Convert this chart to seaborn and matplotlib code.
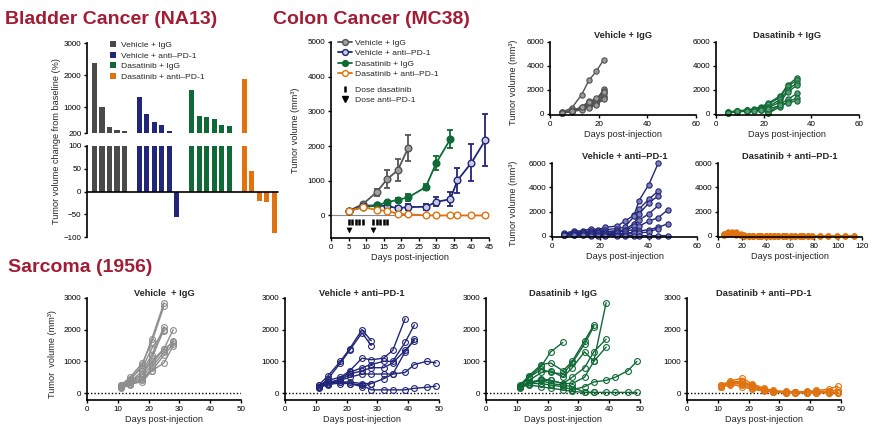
import numpy as np
import pandas as pd
import matplotlib
matplotlib.use("Agg")
import matplotlib.pyplot as plt
import seaborn as sns
from matplotlib.lines import Line2D
from matplotlib.patches import Patch

sns.set_style("ticks")
plt.rcParams["font.family"] = ["Liberation Sans", "DejaVu Sans"]

# ---------------- data ----------------
groups = ["Vehicle + IgG", "Vehicle + anti\u2013PD-1", "Dasatinib + IgG", "Dasatinib + anti\u2013PD-1"]

# Bladder waterfall (% change from baseline)
bladder_vehicle_igg = [2380, 1010, 390, 290, 260]
bladder_vehicle_pd1 = [1320, 790, 540, 440, 250, -55]
bladder_dasatinib_igg = [1540, 730, 700, 640, 440, 420]
bladder_dasatinib_pd1 = [1880, 45, -20, -22, -92]

# Colon mean +/- SEM
colon_days_vi = [5, 9, 13, 16, 19, 22]
colon_mean_vi = [130, 320, 670, 1050, 1300, 1950]
colon_sem_vi = [20, 40, 100, 250, 320, 380]
colon_days_vp = [5, 9, 13, 16, 19, 22, 27, 30, 34, 36, 40, 44]
colon_mean_vp = [130, 280, 290, 270, 210, 240, 250, 390, 470, 1010, 1520, 2180]
colon_sem_vp = [20, 30, 40, 50, 60, 80, 90, 130, 200, 370, 540, 750]
colon_days_di = [5, 9, 13, 16, 19, 22, 27, 30, 34]
colon_mean_di = [130, 230, 290, 380, 450, 520, 820, 1520, 2200]
colon_sem_di = [20, 30, 40, 50, 60, 100, 90, 200, 250]
colon_days_dp = [5, 9, 13, 16, 19, 22, 27, 30, 34, 36, 40, 44]
colon_mean_dp = [130, 240, 160, 130, 50, 30, 5, 0, 0, 0, 0, 0]
colon_sem_dp = [20, 30, 30, 30, 20, 10, 5, 0, 0, 0, 0, 0]
dose_dasatinib_days = [5, 6, 7, 8, 9, 12, 13, 14, 15, 16]
dose_pd1_days = [5, 12]

# Colon individual mice
cvi_days = [5, 9, 13, 16, 19, 22]
cvi_mice = [
    [150, 500, 1600, 2800, 3550, 4500],
    [100, 300, 500, 800, 1100, 2050],
    [120, 250, 550, 900, 1200, 1900],
    [80, 200, 400, 700, 1000, 1700],
    [100, 250, 500, 1100, 900, 1500],
    [90, 200, 450, 600, 800, 1300],
    [80, 150, 350, 500, 750, 1200],
    [100, 200, 600, 1000, 1300, 1800],
]
cdi_days = [5, 9, 13, 16, 19, 22, 27, 30, 34]
cdi_mice = [
    [150, 250, 300, 400, 600, 900, 1500, 2400, 3000],
    [120, 200, 250, 350, 500, 800, 1400, 2300, 2800],
    [100, 250, 300, 350, 450, 600, 1200, 2000, 2600],
    [100, 200, 200, 300, 400, 500, 1000, 1800, 2400],
    [130, 220, 280, 350, 400, 100, 800, 1200, 1700],
    [100, 150, 250, 300, 300, 50, 600, 1000, 1300],
    [80, 200, 200, 250, 350, 400, 700, 900, 1100],
]
cvp_days = [5, 9, 13, 16, 19, 22, 27, 30, 34, 36, 40, 44, 48]
cvp_mice = [
    [200, 400, 400, 600, 500, 700, 800, 1200, 1700, 2900, 4200, 6000],
    [150, 300, 350, 400, 400, 500, 600, 700, 1600, 2200, 3000, 3700],
    [100, 250, 300, 300, 300, 350, 400, 500, 1000, 1800, 2700, 3300],
    [100, 200, 250, 250, 200, 300, 400, 400, 800, 1300, 1800, 2500],
    [100, 150, 200, 200, 200, 200, 300, 400, 500, 800, 1200, 1500, 2150],
    [80, 100, 150, 150, 100, 150, 200, 200, 300, 400, 500, 700, 1000],
    [50, 80, 100, 100, 80, 100, 100, 100, 200, 250, 300, 600],
    [50, 50, 30, 20, 10, 10, 10, 10, 10, 10, 10, 10, 10],
]
cdp_days = [5, 8, 12, 15, 19, 22, 26, 29, 33, 36, 40, 43, 47, 50, 54, 57, 61, 64,
            68, 71, 75, 78, 85, 92, 99, 106, 113]
cdp_mice = [
    [150, 300, 250, 300, 120, 30, 0, 0, 0, 0, 0, 0, 0, 0, 0, 0, 0, 0, 0, 0, 0, 0, 0, 0, 0, 0, 0],
    [100, 250, 200, 250, 80, 10, 0, 0, 0, 0, 0, 0, 0, 0, 0, 0, 0, 0, 0, 0, 0, 0, 0, 0, 0, 0, 0],
    [80, 150, 300, 200, 50, 0, 0, 0, 0, 0, 0, 0, 0, 0, 0, 0, 0, 0, 0, 0, 0],
    [120, 200, 150, 100, 30, 0, 0, 0, 0, 0, 0, 0, 0, 0, 0],
]

# Sarcoma individual mice
s_days = [11, 14, 18, 21, 25, 28, 32, 35, 39, 42, 46, 49]
svi_mice = [
    [200, 400, 900, 1700, 2850],
    [250, 500, 950, 1600, 2750],
    [220, 350, 700, 1200, 2100],
    [180, 300, 600, 1100, 2000],
    [230, 450, 800, 1400, 1950],
    [200, 300, 500, 900, 1400, 2000],
    [150, 250, 400, 800, 1300, 1650],
    [200, 350, 600, 1000, 1400, 1600],
    [250, 300, 350, 700, 1200, 1550],
    [200, 280, 450, 700, 950, 1500],
]
svp_mice = [
    [250, 550, 1000, 1400, 2000, 1650],
    [200, 450, 950, 1350, 1900, 1500],
    [200, 400, 500, 700, 1100, 1050, 1100, 1350, 2350],
    [180, 300, 450, 650, 800, 900, 1000, 1000, 1600, 2150],
    [200, 350, 400, 600, 700, 800, 800, 950, 1350, 1650],
    [150, 300, 400, 500, 600, 600, 600, 600, 650, 900, 1000, 950],
    [200, 250, 350, 300, 250, 100, 100, 100, 100, 150, 180, 220],
    [250, 300, 350, 350, 300, 300, 450, 600, 1300, 1700],
    [200, 300, 300, 300, 200, 300],
]
sdi_mice = [
    [200, 500, 850, 1300, 1600],
    [250, 550, 900, 950, 700, 1000, 1650, 2150],
    [200, 500, 750, 650, 600, 950, 1550, 2100],
    [150, 400, 650, 700, 500, 800, 1300, 1000, 2850],
    [200, 300, 450, 400, 300, 500, 800, 1300, 1700],
    [200, 350, 400, 400, 300, 300, 500, 1000, 1450],
    [220, 300, 300, 250, 200, 100, 200, 350, 400, 500, 700, 1000],
    [180, 250, 200, 150, 100, 50, 20, 20, 20, 20, 20, 20],
    [200, 300, 400, 300, 250, 200, 20, 20],
]
sdp_mice = [
    [250, 380, 470, 300, 150, 80, 50, 40, 50, 80, 120, 220],
    [200, 350, 380, 250, 120, 60, 30, 30, 30, 50, 60, 100],
    [230, 300, 300, 200, 100, 50, 20, 20, 20, 30, 30, 30],
    [200, 250, 250, 150, 80, 30, 10, 10, 10, 10, 10, 10],
    [250, 320, 350, 220, 100, 40, 20, 20, 20, 20, 20, 20],
    [180, 280, 200, 120, 60, 20, 10, 10, 10, 10, 10, 10],
]

# ---------------- style ----------------
C_GRAY = "#4a4a4a"
C_NAVY = "#22267a"
C_GREEN = "#0f6a36"
C_ORANGE = "#e0730f"
C_LGRAY = "#8e8e8e"
C_TITLE = "#a31c33"
palette = dict(zip(groups, [C_GRAY, C_NAVY, C_GREEN, C_ORANGE]))

W, H = 874, 438
fig = plt.figure(figsize=(W / 100, H / 100), dpi=100)
fig.patch.set_facecolor("white")


def add_ax(l, t, r, b):
    return fig.add_axes([l / W, 1 - b / H, (r - l) / W, (b - t) / H])


TICK_FS = 5.8
LAB_FS = 6.6
PT_FS = 6.7
LEG_FS = 6.1


def style(ax, xlim=None, xticks=None, ylim=None, yticks=None):
    if xlim is not None:
        ax.set_xlim(*xlim)
    if xticks is not None:
        ax.set_xticks(xticks)
    if ylim is not None:
        ax.set_ylim(*ylim)
    if yticks is not None:
        ax.set_yticks(yticks)
    for s in ["top", "right"]:
        ax.spines[s].set_visible(False)
    for s in ["left", "bottom"]:
        ax.spines[s].set_linewidth(1.2)
        ax.spines[s].set_color("black")
    ax.tick_params(labelsize=TICK_FS, length=2.5, width=1.0, pad=1.5, colors="black")
    ax.set_xlabel("")
    ax.set_ylabel("")
    ax.set_facecolor("white")


def fig_text_px(x, y, s, **kw):
    fig.text(x / W, 1 - y / H, s, **kw)


def long_df(days, mice):
    rows = []
    for i, m in enumerate(mice):
        for d, v in zip(days, m):
            rows.append((d, v, i))
    return pd.DataFrame(rows, columns=["day", "vol", "mouse"])


def spaghetti(ax, days, mice, color, face, ms=3.8):
    df = long_df(days, mice)
    sns.lineplot(data=df, x="day", y="vol", units="mouse", estimator=None, sort=False,
                 color=color, lw=1.0, marker="o", markersize=ms, markeredgecolor=color,
                 markerfacecolor=face, markeredgewidth=0.8, ax=ax, legend=False,
                 clip_on=False)


# ---------------- titles ----------------
for x, y, s in [(5, 19, "Bladder Cancer (NA13)"), (273, 19, "Colon Cancer (MC38)"),
                (8, 268, "Sarcoma (1956)")]:
    fig_text_px(x, y, s, fontsize=14.0, fontweight="bold", color=C_TITLE,
                ha="left", va="center")

# ---------------- bladder waterfall ----------------
bl_vals = [bladder_vehicle_igg, bladder_vehicle_pd1, bladder_dasatinib_igg, bladder_dasatinib_pd1]
rows = []
slot = 0
for g, vals in zip(groups, bl_vals):
    for v in vals:
        rows.append((f"s{slot:02d}", v, g))
        slot += 1
    slot += 1
nslots = slot - 1
order = [f"s{i:02d}" for i in range(nslots)]
bdf = pd.DataFrame(rows, columns=["slot", "value", "group"])
bdf["low"] = bdf["value"].clip(upper=100)

axu = add_ax(87, 43, 278, 133)
axl = add_ax(87, 146, 278, 237)
sns.barplot(data=bdf, x="slot", y="value", hue="group", order=order, hue_order=groups,
            palette=palette, dodge=False, width=0.68, errorbar=None, saturation=1,
            legend=False, ax=axu)
sns.barplot(data=bdf, x="slot", y="low", hue="group", order=order, hue_order=groups,
            palette=palette, dodge=False, width=0.68, errorbar=None, saturation=1,
            legend=False, ax=axl)
xl = (-1.0, nslots - 1 + 0.5)
style(axu, xlim=xl, ylim=(200, 3000), yticks=[200, 1000, 2000, 3000])
style(axl, xlim=xl, ylim=(-100, 100), yticks=[-100, -50, 0, 50, 100])
for a in (axu, axl):
    a.spines["bottom"].set_visible(False)
    a.set_xticks([])
    for p in a.patches:
        p.set_linewidth(0)
axl.axhline(0, color="black", lw=1.2, zorder=5, clip_on=False)
fig_text_px(57, 141, "Tumor volume change from baseline (%)", rotation=90,
            fontsize=LAB_FS, ha="center", va="center")
bl_handles = [Patch(facecolor=palette[g], edgecolor="none", label=g) for g in groups]
fig.legend(handles=bl_handles, loc="upper left", bbox_to_anchor=(110 / W, 1 - 41 / H),
           frameon=False, fontsize=LEG_FS, handlelength=0.75, handleheight=0.75,
           handletextpad=0.6, labelspacing=0.3, borderaxespad=0, borderpad=0)

# ---------------- colon main ----------------
axc = add_ax(331, 42, 489, 238)
axc.axhline(0, color="#888888", lw=0.8, zorder=0)
colon_sets = [
    (groups[0], colon_days_vi, colon_mean_vi, colon_sem_vi, "#555555", "#a0a0a0"),
    (groups[1], colon_days_vp, colon_mean_vp, colon_sem_vp, C_NAVY, "#c9c9e0"),
    (groups[2], colon_days_di, colon_mean_di, colon_sem_di, C_GREEN, C_GREEN),
    (groups[3], colon_days_dp, colon_mean_dp, colon_sem_dp, C_ORANGE, "white"),
]
handles = []
for g, d, m, s, c, fc in colon_sets:
    axc.errorbar(d, m, yerr=s, fmt="none", ecolor=c, elinewidth=1.3, capsize=2.5,
                 capthick=1.3, zorder=2)
    df = pd.DataFrame({"day": d, "vol": m})
    sns.lineplot(data=df, x="day", y="vol", color=c, lw=1.3, marker="o", markersize=4.8,
                 markeredgecolor=c, markerfacecolor=fc, markeredgewidth=1.0, ax=axc,
                 legend=False, zorder=3)
    handles.append(Line2D([], [], color=c, lw=1.3, marker="o", markersize=4.2,
                          markeredgecolor=c, markerfacecolor=fc, markeredgewidth=1.0, label=g))
dose_df = pd.DataFrame({"day": dose_dasatinib_days, "y": [-180] * len(dose_dasatinib_days)})
sns.scatterplot(data=dose_df, x="day", y="y", marker="|", s=22, linewidth=1.8,
                color="black", ax=axc, legend=False)
pd1_df = pd.DataFrame({"day": dose_pd1_days, "y": [-420] * len(dose_pd1_days)})
sns.scatterplot(data=pd1_df, x="day", y="y", marker="v", s=14, color="black",
                edgecolor="black", ax=axc, legend=False)
style(axc, xlim=(0, 45), xticks=list(range(0, 46, 5)), ylim=(-650, 5000),
      yticks=[0, 1000, 2000, 3000, 4000, 5000])
axc.set_xlabel("Days post-injection", fontsize=LAB_FS, labelpad=2)
axc.set_ylabel("Tumor volume (mm\u00b3)", fontsize=LAB_FS)
axc.yaxis.set_label_coords((300 - 331) / (489 - 331), 0.55)
leg1 = axc.legend(handles=handles, loc="upper left",
                  bbox_to_anchor=((338 - 331) / 158, 1 + 3 / 196), frameon=False,
                  fontsize=LEG_FS, handlelength=1.6, handletextpad=0.4, labelspacing=0.3,
                  borderaxespad=0, borderpad=0)
axc.add_artist(leg1)
dose_handles = [
    Line2D([], [], ls="none", marker="|", markersize=5, markeredgewidth=1.8,
           color="black", label="Dose dasatinib"),
    Line2D([], [], ls="none", marker="v", markersize=3.8, color="black",
           label="Dose anti\u2013PD-1"),
]
axc.legend(handles=dose_handles, loc="upper left",
           bbox_to_anchor=((338 - 331) / 158, 1 - 44 / 196), frameon=False,
           fontsize=LEG_FS, handlelength=1.6, handletextpad=0.4, labelspacing=0.3,
           borderaxespad=0, borderpad=0)

# ---------------- colon small panels ----------------
small = [
    (550, 42, 696, 115, groups[0], cvi_days, cvi_mice, "#505050", "#9a9a9a", (0, 60), [0, 20, 40, 60]),
    (716, 42, 859, 115, groups[2], cdi_days, cdi_mice, C_GREEN, "#5a9a72", (0, 60), [0, 20, 40, 60]),
    (552, 163, 697, 237, groups[1], cvp_days, cvp_mice, C_NAVY, "#7c7fb6", (0, 60), [0, 20, 40, 60]),
    (718, 163, 862, 237, groups[3], cdp_days, cdp_mice, C_ORANGE, C_ORANGE, (0, 120), [0, 20, 40, 60, 80, 100, 120]),
]
for i, (l, t, r, b, g, days, mice, c, fc, xlim, xt) in enumerate(small):
    ax = add_ax(l, t, r, b)
    spaghetti(ax, days, mice, c, fc, ms=3.8)
    style(ax, xlim=xlim, xticks=xt, ylim=(-100, 6000), yticks=[0, 2000, 4000, 6000])
    ax.set_title(g, fontsize=PT_FS, fontweight="bold", pad=3)
    ax.set_xlabel("Days post-injection", fontsize=LAB_FS, labelpad=1.5)
    if i in (0, 2):
        ax.set_ylabel("Tumor volume (mm\u00b3)", fontsize=LAB_FS)
        ax.yaxis.set_label_coords((518 - l) / (r - l), 0.45)

# ---------------- sarcoma panels ----------------
sarc = [
    (87, 241, "Vehicle  + IgG", svi_mice, C_LGRAY),
    (285, 439, groups[1], svp_mice, C_NAVY),
    (486, 640, groups[2], sdi_mice, C_GREEN),
    (687, 841, groups[3], sdp_mice, C_ORANGE),
]
for i, (l, r, g, mice, c) in enumerate(sarc):
    ax = add_ax(l, 298, r, 400)
    ax.axhline(0, color="black", lw=1.0, ls=(0, (1, 1.5)), zorder=0)
    spaghetti(ax, s_days, mice, c, "none", ms=4.2)
    style(ax, xlim=(0, 50), xticks=[0, 10, 20, 30, 40, 50], ylim=(-220, 3000),
          yticks=[0, 1000, 2000, 3000])
    ax.set_title(g, fontsize=PT_FS, fontweight="bold", pad=1)
    ax.set_xlabel("Days post-injection", fontsize=LAB_FS, labelpad=1.5)
    if i == 0:
        ax.set_ylabel("Tumor  volume (mm\u00b3)", fontsize=LAB_FS)
        ax.yaxis.set_label_coords((57 - l) / (r - l), 0.45)

fig.savefig("out.png", dpi=100, facecolor="white")
